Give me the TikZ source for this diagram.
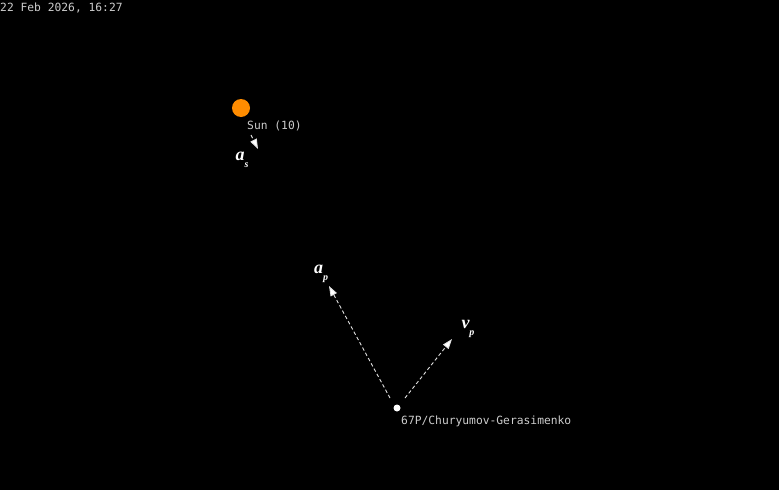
\documentclass[tikz,border=0pt]{standalone}
\usepackage{fontspec}
\setmainfont{Liberation Serif}
\setmonofont{DejaVu Sans Mono}
\usetikzlibrary{arrows.meta}
\tikzset{x=1pt, y=-1pt,
 tag/.style={font=\ttfamily\fontsize{11.3}{11.3}\selectfont, text=white!80!black, inner sep=0pt, anchor=west},
 vec/.style={draw=white!88!black, line width=0.9pt, dash pattern=on 3.5pt off 2.5pt,
   -{Triangle[length=10pt,width=7pt,fill=white]}},
 veclabel/.style={font=\fontsize{18}{18}\selectfont\bfseries\itshape, text=white, inner sep=0pt},
 body/.style={circle, inner sep=0pt, draw=none},
}
\newcommand{\vsub}[2]{#1\raisebox{-7.5pt}{\fontsize{10}{10}\selectfont #2}}

\begin{document}
\begin{tikzpicture}
    \fill[black] (0,0) rectangle (779,490);
    \useasboundingbox (0,0) rectangle (779,490);
    % date
    \node[tag] (date) at (0,8) {22 Feb 2026, 16:27};
    % sun
    \node[body, fill=orange!90!yellow, minimum size=18pt] (sunball) at (241,108) {};
    \node[tag] (sun) at (247,126) {Sun (10)};
    \coordinate (as0) at (251,135);
    \coordinate (as1) at (258,149);
    \draw[vec] (as0) -- (as1);
    \node[veclabel] (as) at (242,160) {\vsub{a}{s}};
    % comet
    \node[body, fill=white, minimum size=7pt] (cometdot) at (397,408) {};
    \node[tag] (comet) at (401,421) {67P/Churyumov-Gerasimenko};
    \coordinate (ap0) at (390,398);
    \coordinate (ap1) at (329,286);
    \coordinate (vp0) at (405,398);
    \coordinate (vp1) at (452,339);
    \draw[vec] (ap0) -- (ap1);
    \draw[vec] (vp0) -- (vp1);
    \node[veclabel] (ap) at (321,274) {\vsub{a}{p}};
    \node[veclabel] (vp) at (468,329) {\vsub{v}{p}};
\end{tikzpicture}
\end{document}
